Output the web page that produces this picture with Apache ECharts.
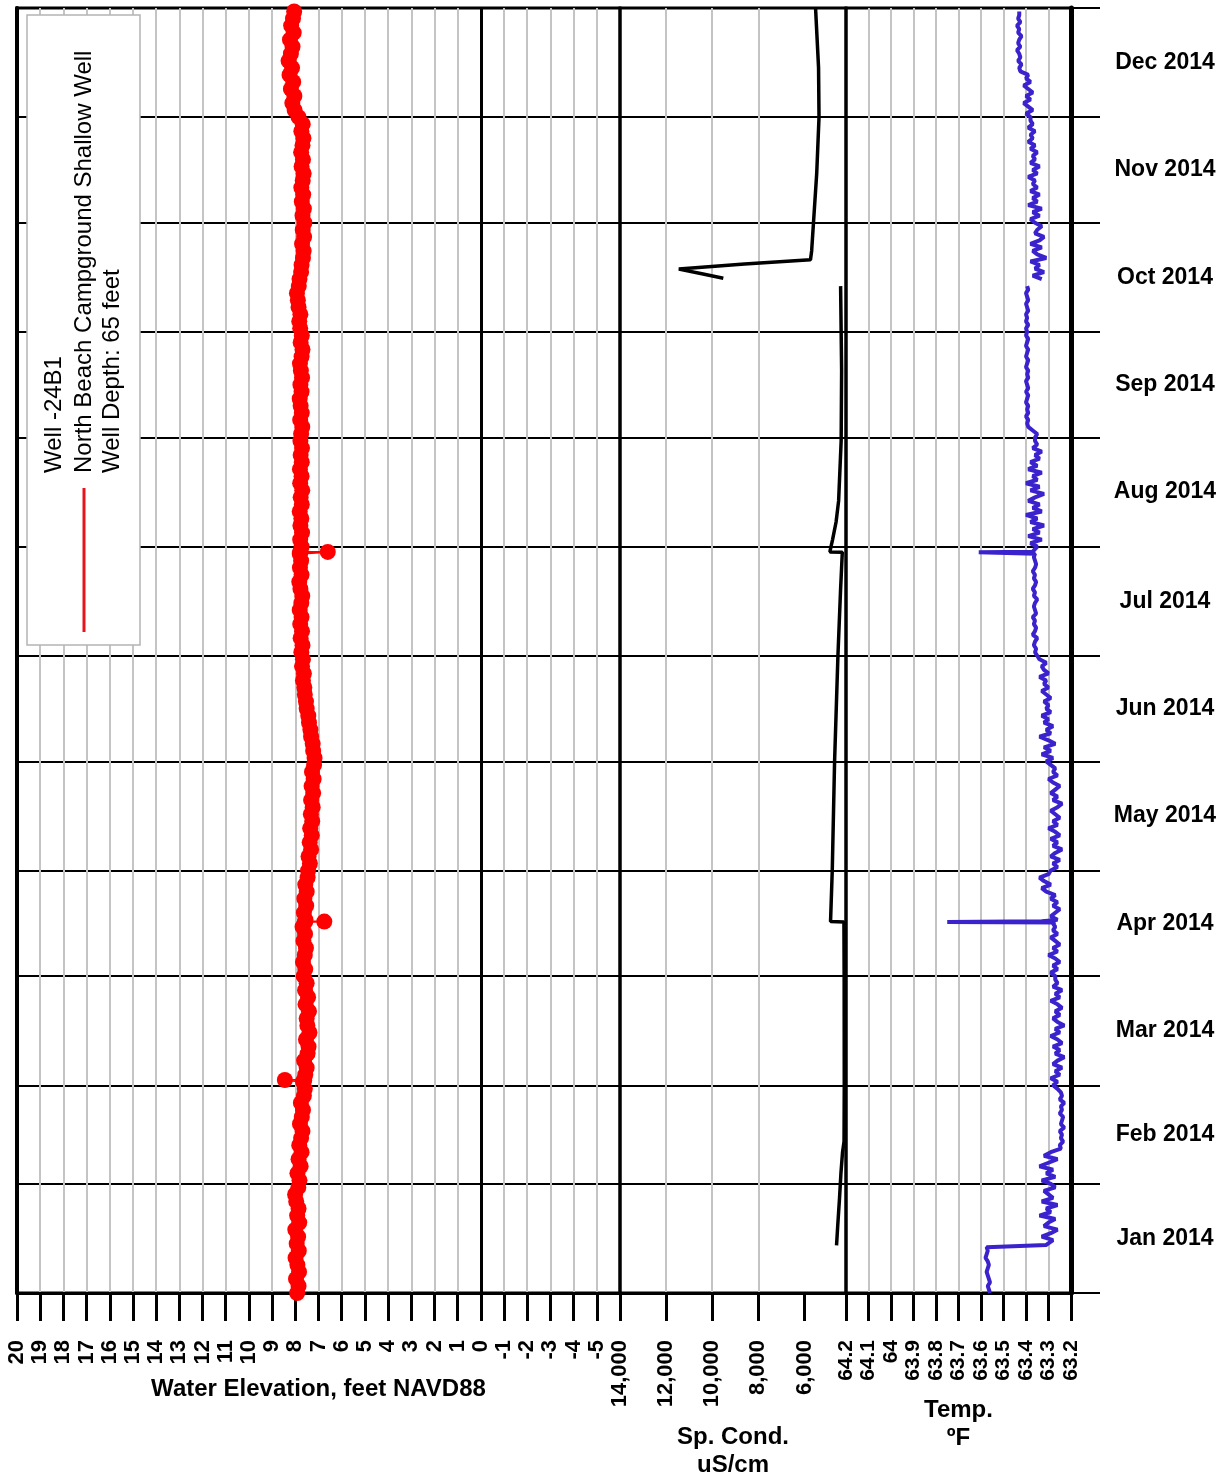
<!DOCTYPE html>
<html>
<head>
<meta charset="utf-8">
<script src="https://cdn.jsdelivr.net/npm/echarts@6/dist/echarts.min.js"></script>
<style>
  html, body { margin: 0; padding: 0; background: #fff; }
  #chart { width: 1225px; height: 1480px; }
</style>
</head>
<body>
<div id="chart"></div>
<script>
const FONT = '"Liberation Sans", Arial, Helvetica, sans-serif';

// Month boundaries of the 2014 record (horizontal grid lines) and their labels
const monthStarts = ['2014-01-01', '2014-02-01', '2014-03-01', '2014-04-01', '2014-05-01', '2014-06-01',
  '2014-07-01', '2014-08-01', '2014-09-01', '2014-10-01', '2014-11-01', '2014-12-01', '2015-01-01'];
const monthLabels = ['Jan 2014', 'Feb 2014', 'Mar 2014', 'Apr 2014', 'May 2014', 'Jun 2014',
  'Jul 2014', 'Aug 2014', 'Sep 2014', 'Oct 2014', 'Nov 2014', 'Dec 2014'];

// Water elevation, feet NAVD88: one reading every 2 days starting Jan 1 2014
const elevStart = '2014-01-01';
const elevStepDays = 2;
const elevValues = [
  7.92, 7.86, 7.97, 7.84, 7.91, 7.99, 7.85, 7.94, 7.88, 8.00, 7.83, 7.92, 7.86, 7.96, 8.01, 7.87,
  7.82, 7.91, 7.77, 7.86, 7.73, 7.83, 7.75, 7.69, 7.80, 7.72, 7.67, 7.76, 7.63, 7.59,
  7.67, 7.57, 7.51, 7.62, 7.47, 7.43, 7.54, 7.39, 7.48, 7.51, 7.41, 7.56, 7.45, 7.58, 7.51,
  7.64, 7.57, 7.67, 7.59, 7.54, 7.65, 7.58, 7.69, 7.56, 7.63, 7.53, 7.61, 7.51, 7.57, 7.47,
  7.45, 7.37, 7.43, 7.32, 7.38, 7.29, 7.36, 7.27, 7.33, 7.25, 7.32, 7.23, 7.30, 7.21, 7.28, 7.19,
  7.17, 7.23, 7.25, 7.32, 7.35, 7.41, 7.44, 7.51, 7.54, 7.59, 7.61, 7.67, 7.63, 7.71, 7.67,
  7.74, 7.69, 7.77, 7.71, 7.79, 7.73, 7.81, 7.74, 7.70, 7.78, 7.83, 7.73, 7.80, 7.75, 7.81,
  7.73, 7.79, 7.71, 7.78, 7.74, 7.81, 7.72, 7.77, 7.70, 7.79, 7.73, 7.80, 7.72, 7.77, 7.71, 7.78,
  7.75, 7.70, 7.79, 7.72, 7.77, 7.81, 7.73, 7.78, 7.71, 7.76, 7.80, 7.73, 7.69, 7.77, 7.72,
  7.79, 7.83, 7.78, 7.86, 7.89, 7.93, 7.85, 7.82, 7.75, 7.73, 7.67, 7.64, 7.71, 7.62, 7.68,
  7.61, 7.69, 7.63, 7.72, 7.66, 7.74, 7.68, 7.64, 7.73, 7.67, 7.75, 7.69, 7.65, 7.74, 7.68,
  7.86, 8.03, 8.13, 8.04, 8.19, 8.09, 8.25, 8.14, 8.29, 8.19, 8.12, 8.23, 8.07, 8.18, 8.10, 8.05
];
// Short excursions logged during field visits
const elevEvents = [
  ['2014-03-02 10:00', 7.62], ['2014-03-02 12:00', 8.45], ['2014-03-02 14:00', 7.62],
  ['2014-04-16 10:00', 7.58], ['2014-04-16 12:00', 6.75], ['2014-04-16 14:00', 7.58],
  ['2014-07-30 10:00', 7.78], ['2014-07-30 12:00', 6.60], ['2014-07-30 14:00', 7.78]
];

// Specific conductance, uS/cm (null = no record)
const condTimes = [
  '2014-01-14 12:00', '2014-01-20', '2014-01-28', '2014-02-04', '2014-02-10', '2014-02-13',
  '2014-03-01', '2014-04-01', '2014-04-16 10:00', '2014-04-16 12:00', '2014-05-01', '2014-06-01',
  '2014-07-01', '2014-07-20', '2014-07-30 10:00', '2014-07-30 12:00', '2014-08-03', '2014-08-08',
  '2014-08-14', '2014-08-31', '2014-09-20', '2014-10-14', '2014-10-15',
  '2014-10-16 06:00', '2014-10-17 12:00', '2014-10-18 20:00', '2014-10-20 06:00', '2014-10-21 12:00',
  '2014-10-24', '2014-11-01', '2014-11-15', '2014-12-01', '2014-12-15', '2014-12-31 23:00'
];
const condValues = [
  4610, 4560, 4480, 4420, 4350, 4285,
  4275, 4280, 4290, 4870, 4796, 4695,
  4550, 4434, 4360, 4900, 4782, 4630,
  4520, 4410, 4390, 4434, null,
  9520, 10450, 11450, 8600, 5740,
  5690, 5610, 5470, 5370, 5390, 5520
];

// Water temperature, degrees F: daily readings starting Jan 1 2014 (null = no record)
const tempStart = '2014-01-01';
const tempStepDays = 1;
const tempValues = [
  // Jan
  63.56, 63.565, 63.57, 63.56, 63.565, 63.57, 63.575, 63.57, 63.565, 63.57, 63.58, 63.575, 63.57, 63.575,
  63.31, 63.28, 63.33, 63.29, 63.26, 63.32, 63.30, 63.27, 63.34, 63.29, 63.31, 63.26, 63.33, 63.28, 63.30, 63.32, 63.27,
  // Feb
  63.29, 63.33, 63.27, 63.31, 63.28, 63.34, 63.30, 63.26, 63.32, 63.29,
  63.245, 63.25, 63.235, 63.245, 63.24, 63.25, 63.23, 63.245, 63.24, 63.235, 63.25, 63.24, 63.245, 63.23, 63.25, 63.24, 63.245, 63.26,
  // Mar
  63.28, 63.26, 63.29, 63.25, 63.27, 63.24, 63.28, 63.26, 63.23, 63.27, 63.25, 63.28, 63.24, 63.26, 63.29, 63.25,
  63.27, 63.23, 63.26, 63.28, 63.25, 63.27, 63.24, 63.26, 63.29, 63.25, 63.27, 63.24, 63.28, 63.26, 63.27,
  // Apr
  63.27, 63.29, 63.26, 63.28, 63.25, 63.27, 63.30, 63.26, 63.28, 63.25, 63.27, 63.29, 63.26, 63.28, 63.27, 63.28,
  63.26, 63.29, 63.27, 63.25, 63.28, 63.26, 63.29, 63.27, 63.31, 63.33, 63.29, 63.32, 63.34, 63.30,
  // May
  63.29, 63.26, 63.28, 63.25, 63.29, 63.27, 63.24, 63.28, 63.26, 63.29, 63.25, 63.27, 63.30, 63.26, 63.28, 63.25,
  63.27, 63.29, 63.26, 63.24, 63.28, 63.26, 63.29, 63.27, 63.25, 63.28, 63.30, 63.26, 63.28, 63.27, 63.29,
  // Jun
  63.31, 63.28, 63.33, 63.29, 63.32, 63.27, 63.30, 63.34, 63.29, 63.31, 63.28, 63.32, 63.30, 63.33, 63.29,
  63.31, 63.30, 63.32, 63.29, 63.31, 63.33, 63.30, 63.32, 63.31, 63.34, 63.30, 63.32, 63.33, 63.31, 63.34,
  // Jul
  63.35, 63.36, 63.355, 63.365, 63.36, 63.35, 63.37, 63.36, 63.355, 63.365, 63.36, 63.37, 63.355, 63.36, 63.365, 63.36,
  63.35, 63.365, 63.36, 63.37, 63.36, 63.355, 63.365, 63.36, 63.37, 63.36, 63.355, 63.36, 63.365, 63.36, 63.365,
  // Aug
  63.35, 63.38, 63.33, 63.39, 63.34, 63.37, 63.32, 63.38, 63.35, 63.40, 63.33, 63.37, 63.34, 63.39, 63.36, 63.32,
  63.38, 63.34, 63.40, 63.35, 63.37, 63.33, 63.39, 63.35, 63.38, 63.34, 63.36, 63.33, 63.37, 63.35, 63.36,
  // Sep
  63.36, 63.35, 63.37, 63.39, 63.395, 63.39, 63.40, 63.39, 63.395, 63.39, 63.40, 63.395, 63.39, 63.40, 63.39,
  63.395, 63.40, 63.39, 63.395, 63.39, 63.40, 63.395, 63.39, 63.40, 63.395, 63.39, 63.40, 63.395, 63.39, 63.40,
  // Oct
  63.395, 63.40, 63.39, 63.40, 63.395, 63.40, 63.39, 63.395, 63.40, 63.39, 63.395, 63.40, 63.39, 63.395, null,
  63.33, 63.37, 63.32, 63.36, 63.34, 63.38, 63.31, 63.35, 63.37, 63.33, 63.38, 63.34, 63.32, 63.36, 63.35, 63.33,
  // Nov
  63.36, 63.38, 63.34, 63.37, 63.33, 63.39, 63.35, 63.37, 63.34, 63.38, 63.35, 63.37, 63.36, 63.39, 63.35,
  63.37, 63.34, 63.38, 63.36, 63.37, 63.35, 63.38, 63.36, 63.39, 63.37, 63.38, 63.36, 63.39, 63.37, 63.38,
  // Dec
  63.38, 63.40, 63.37, 63.39, 63.41, 63.38, 63.40, 63.37, 63.39, 63.41, 63.38, 63.40, 63.39,
  63.425, 63.43, 63.42, 63.435, 63.425, 63.43, 63.44, 63.425, 63.435, 63.43, 63.42, 63.435, 63.43, 63.44, 63.425, 63.435, 63.43, 63.43
];
const tempEvents = [
  ['2014-01-14 12:00', 63.575], ['2014-01-14 16:00', 63.31],
  ['2014-04-16 06:00', 63.27], ['2014-04-16 10:00', 63.75], ['2014-04-16 14:00', 63.33], ['2014-04-16 20:00', 63.29],
  ['2014-07-30 06:00', 63.36], ['2014-07-30 10:00', 63.61], ['2014-07-30 14:00', 63.37]
];

// Bottom-axis tick values
const condTicks = [6000, 8000, 10000, 12000, 14000];
const tempTicks = [63.2, 63.3, 63.4, 63.5, 63.6, 63.7, 63.8, 63.9, 64.0, 64.1, 64.2];

// ---- helpers ----
function ts(s) {
  const parts = s.split(' ');
  const [Y, M, D] = parts[0].split('-').map(Number);
  const [h, m] = parts[1] ? parts[1].split(':').map(Number) : [0, 0];
  return new Date(Y, M - 1, D, h, m).getTime();
}
const gap = v => (v === null ? '-' : v);
function regularSeries(start, step, values) {
  const [Y, M, D] = start.split('-').map(Number);
  return values.map((v, i) => [gap(v), new Date(Y, M - 1, D + i * step).getTime()]);
}
function withEvents(points, events) {
  const all = points.concat(events.map(([t, v]) => [gap(v), ts(t)]));
  all.sort((a, b) => a[1] - b[1]);
  return all;
}

const elevData = withEvents(regularSeries(elevStart, elevStepDays, elevValues), elevEvents);
const tempData = withEvents(regularSeries(tempStart, tempStepDays, tempValues), tempEvents);
const condData = condTimes.map((t, i) => [gap(condValues[i]), ts(t)]);

// time runs on a numeric (millisecond) axis so month boundaries can be given as exact ticks
const monthTicks = monthStarts.map(ts);
const monthMids = monthTicks.slice(0, -1).map((t, i) => (t + monthTicks[i + 1]) / 2);
function monthLabelFor(v) {
  let best = 0;
  monthMids.forEach((m, i) => { if (Math.abs(m - v) < Math.abs(monthMids[best] - v)) best = i; });
  return monthLabels[best];
}

const tMin = monthTicks[0];
const tMax = monthTicks[monthTicks.length - 1];

// ---- layout: three side-by-side panels sharing the time axis ----
const panels = [
  { left: 17, width: 603 },
  { left: 620, width: 226 },
  { left: 846, width: 225 }
];

const gridOpts = panels.map(p => ({
  left: p.left, top: 8, width: p.width, height: 1285,
  show: true, borderColor: '#000', borderWidth: 3, backgroundColor: 'transparent',
  containLabel: false, outerBoundsMode: 'none'
}));

const gray = '#c4c4c4';
const labelStyle = { color: '#000', fontFamily: FONT, fontWeight: 'bold', fontSize: 22 };
const nameStyle = { color: '#000', fontFamily: FONT, fontWeight: 'bold', fontSize: 24, lineHeight: 28 };

function xAxisBase(gridIndex) {
  return {
    type: 'value', gridIndex, inverse: true, position: 'bottom',
    axisLine: { show: true, onZero: false, lineStyle: { color: '#000', width: 3 } },
    axisTick: { show: true, length: 28, lineStyle: { color: '#000', width: 3 } },
    axisLabel: Object.assign({ show: true, rotate: 90, margin: 47, showMinLabel: true, showMaxLabel: true, hideOverlap: false }, labelStyle),
    splitLine: { show: true, showMinLine: false, showMaxLine: false, lineStyle: { color: gray, width: 2 } },
    nameLocation: 'middle', nameTextStyle: nameStyle, nameMoveOverlap: false
  };
}

const xAxes = [
  Object.assign(xAxisBase(0), {
    min: -6, max: 20, interval: 1,
    name: 'Water Elevation, feet NAVD88', nameGap: 82,
    axisLabel: Object.assign(xAxisBase(0).axisLabel, { formatter: v => (v === -6 ? '' : String(v)) })
  }),
  Object.assign(xAxisBase(1), {
    min: 4200, max: 14000,
    name: 'Sp. Cond.\nuS/cm', nameGap: 130,
    axisTick: { show: true, length: 28, lineStyle: { color: '#000', width: 3 }, customValues: condTicks },
    axisLabel: Object.assign(xAxisBase(1).axisLabel, {
      customValues: condTicks,
      formatter: v => Number(v).toLocaleString('en-US')
    })
  }),
  Object.assign(xAxisBase(2), {
    min: 63.2, max: 64.2, interval: 0.1,
    name: 'Temp.\n\u00baF', nameGap: 103,
    axisTick: { show: true, length: 28, lineStyle: { color: '#000', width: 3 }, customValues: tempTicks },
    axisLabel: Object.assign(xAxisBase(2).axisLabel, {
      customValues: tempTicks,
      fontSize: 21,
      formatter: v => String(Math.round(v * 10) / 10)
    })
  })
];

function yAxisBase(gridIndex) {
  return {
    type: 'value', gridIndex, min: tMin, max: tMax, scale: true,
    axisLine: { show: false },
    axisTick: { show: false, customValues: monthTicks },
    axisLabel: { show: false, customValues: monthMids },
    splitLine: { show: true, lineStyle: { color: '#000', width: 2 } }
  };
}

const yAxes = [
  Object.assign(yAxisBase(0), {
    position: 'left',
    axisLine: { show: true, onZero: false, lineStyle: { color: '#000', width: 4 } }
  }),
  yAxisBase(1),
  Object.assign(yAxisBase(2), {
    position: 'right',
    axisLine: { show: true, onZero: false, lineStyle: { color: '#000', width: 5 } },
    axisTick: { show: true, inside: false, length: 29, customValues: monthTicks, lineStyle: { color: '#000', width: 2 } },
    axisLabel: Object.assign({
      show: true, customValues: monthMids, margin: 94, align: 'center',
      formatter: v => monthLabelFor(v)
    }, labelStyle, { fontSize: 23 })
  })
];

const chart = echarts.init(document.getElementById('chart'), null, { renderer: 'canvas' });

chart.setOption({
  animation: false,
  backgroundColor: '#fff',
  grid: gridOpts,
  xAxis: xAxes,
  yAxis: yAxes,
  series: [
    {
      type: 'line', name: 'Water Elevation', xAxisIndex: 0, yAxisIndex: 0,
      data: elevData, showSymbol: true, symbol: 'circle', symbolSize: 16,
      lineStyle: { color: '#ff0000', width: 2 },
      itemStyle: { color: '#ff0000', borderWidth: 0 },
      silent: true, z: 4,
      markLine: {
        silent: true, symbol: 'none', label: { show: false },
        lineStyle: { color: '#000', width: 3, type: 'solid' },
        data: [{ xAxis: 0 }]
      }
    },
    {
      type: 'line', name: 'Sp. Cond.', xAxisIndex: 1, yAxisIndex: 1,
      data: condData, showSymbol: false, connectNulls: false,
      lineStyle: { color: '#000', width: 3.5 }, silent: true, z: 4
    },
    {
      type: 'line', name: 'Temp.', xAxisIndex: 2, yAxisIndex: 2,
      data: tempData, showSymbol: false, connectNulls: false,
      lineStyle: { color: '#3a22cc', width: 4 }, silent: true, z: 4
    }
  ],
  graphic: [
    {
      type: 'rect', z: 100,
      shape: { x: 27, y: 15, width: 113, height: 630 },
      style: { fill: '#fff', stroke: '#b4b4b4', lineWidth: 1.5 }
    },
    {
      type: 'text', z: 101, x: 54, y: 473, rotation: Math.PI / 2,
      style: { text: 'Well -24B1', font: '24px ' + FONT, fill: '#000',
        textAlign: 'left', textVerticalAlign: 'middle', align: 'left', verticalAlign: 'middle' }
    },
    {
      type: 'text', z: 101, x: 84, y: 473, rotation: Math.PI / 2,
      style: { text: 'North Beach Campground Shallow Well', font: '24px ' + FONT, fill: '#000',
        textAlign: 'left', textVerticalAlign: 'middle', align: 'left', verticalAlign: 'middle' }
    },
    {
      type: 'text', z: 101, x: 112, y: 473, rotation: Math.PI / 2,
      style: { text: 'Well Depth: 65 feet', font: '24px ' + FONT, fill: '#000',
        textAlign: 'left', textVerticalAlign: 'middle', align: 'left', verticalAlign: 'middle' }
    },
    {
      type: 'line', z: 101,
      shape: { x1: 84, y1: 488, x2: 84, y2: 632 },
      style: { stroke: '#e8141c', lineWidth: 3 }
    }
  ]
});
</script>
</body>
</html>
